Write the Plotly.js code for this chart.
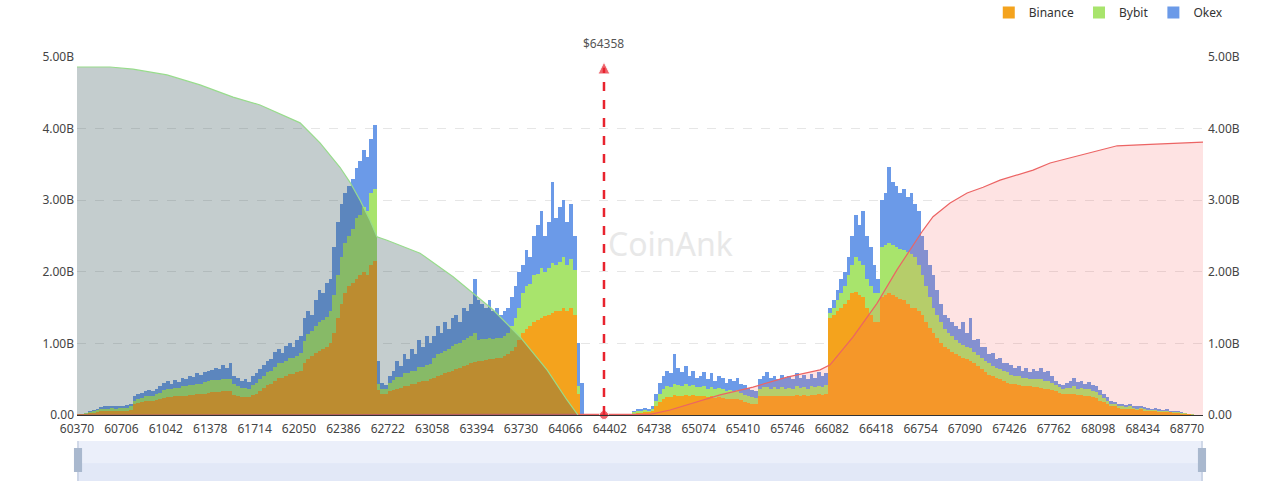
<!DOCTYPE html>
<html>
<head>
<meta charset="utf-8">
<script src="https://cdn.plot.ly/plotly-3.0.1.min.js"></script>
<style>
  html, body { margin: 0; padding: 0; background: #fff; }
  #plotDiv { width: 1280px; height: 484px; }
</style>
</head>
<body>
<div id="plotDiv"></div>
<script>
// price levels: one bar every 28 USD starting at 60370
const startPrice = 60370;
const priceStep = 28;
const currentPrice = 64358;

const xTickLabels = [60370, 60706, 61042, 61378, 61714, 62050, 62386, 62722, 63058, 63394,
  63730, 64066, 64402, 64738, 65074, 65410, 65746, 66082, 66418, 66754,
  67090, 67426, 67762, 68098, 68434, 68770];

// liquidation volume per level, in billions (one row = one tick interval)
const binance = [
  0.01,0.01,0.02,0.03,0.03,0.04,0.05,0.05,0.05,0.06,0.05,0.06,
  0.06,0.06,0.07,0.15,0.17,0.18,0.19,0.20,0.20,0.21,0.22,0.24,
  0.25,0.25,0.26,0.26,0.27,0.27,0.28,0.28,0.29,0.29,0.30,0.31,
  0.32,0.32,0.32,0.33,0.33,0.33,0.28,0.26,0.25,0.25,0.25,0.28,
  0.30,0.34,0.38,0.42,0.44,0.48,0.52,0.52,0.55,0.57,0.57,0.60,
  0.62,0.72,0.78,0.82,0.86,0.90,0.92,0.95,1.00,1.15,1.35,1.55,
  1.70,1.80,1.85,1.90,1.95,2.00,1.95,2.10,2.15,0.35,0.30,0.30,
  0.33,0.35,0.37,0.38,0.40,0.41,0.43,0.44,0.46,0.47,0.48,0.50,
  0.52,0.55,0.56,0.58,0.60,0.62,0.64,0.66,0.68,0.70,0.72,0.74,
  0.75,0.76,0.77,0.78,0.78,0.80,0.80,0.82,0.85,0.90,0.95,1.05,
  1.15,1.20,1.25,1.30,1.32,1.35,1.38,1.40,1.42,1.45,1.45,1.50,
  1.45,1.50,1.40,0.30,0,0,0,0,0,0,0,0,
  0,0,0,0,0,0,0.02,0.03,0.03,0.04,0.04,0.05,
  0.12,0.18,0.22,0.25,0.25,0.28,0.27,0.27,0.28,0.27,0.28,0.27,
  0.26,0.27,0.25,0.26,0.24,0.25,0.24,0.22,0.23,0.22,0.23,0.21,
  0.18,0.17,0.16,0.16,0.26,0.27,0.27,0.26,0.27,0.26,0.27,0.26,
  0.27,0.27,0.28,0.27,0.28,0.27,0.28,0.28,0.29,0.28,0.30,1.35,
  1.40,1.45,1.50,1.55,1.60,1.70,1.72,1.68,1.65,1.50,1.40,1.30,
  1.30,1.65,1.68,1.70,1.68,1.65,1.62,1.60,1.55,1.50,1.50,1.45,
  1.40,1.30,1.22,1.15,1.08,1.00,0.95,0.92,0.88,0.85,0.82,0.80,
  0.78,0.76,0.72,0.68,0.64,0.60,0.56,0.54,0.52,0.50,0.48,0.45,
  0.44,0.43,0.42,0.41,0.40,0.40,0.39,0.39,0.38,0.37,0.36,0.35,
  0.33,0.31,0.30,0.30,0.29,0.29,0.28,0.28,0.27,0.26,0.25,0.24,
  0.20,0.18,0.16,0.13,0.12,0.10,0.09,0.09,0.09,0.08,0.07,0.08,
  0.06,0.055,0.05,0.055,0.045,0.04,0.045,0.035,0.03,0.03,0.02,0.02,
  0.01,0.005,0.003,0
];
const bybit = [
  0.00,0.01,0.01,0.01,0.02,0.03,0.04,0.04,0.04,0.04,0.04,0.04,
  0.04,0.04,0.05,0.05,0.06,0.06,0.07,0.07,0.07,0.08,0.09,0.11,
  0.11,0.11,0.12,0.12,0.13,0.13,0.14,0.14,0.15,0.15,0.16,0.16,
  0.17,0.17,0.17,0.17,0.17,0.17,0.15,0.14,0.13,0.13,0.12,0.14,
  0.15,0.16,0.17,0.18,0.18,0.19,0.20,0.20,0.21,0.22,0.22,0.23,
  0.25,0.32,0.35,0.36,0.38,0.40,0.40,0.42,0.45,0.52,0.60,0.65,
  0.70,0.70,0.75,0.85,0.85,0.90,0.90,1.00,1.00,0.08,0.06,0.06,
  0.12,0.14,0.16,0.15,0.18,0.17,0.19,0.18,0.21,0.20,0.22,0.21,
  0.28,0.30,0.30,0.32,0.32,0.34,0.35,0.35,0.37,0.37,0.38,0.40,
  0.30,0.30,0.29,0.30,0.28,0.28,0.27,0.28,0.30,0.35,0.40,0.45,
  0.55,0.60,0.58,0.65,0.65,0.70,0.62,0.66,0.70,0.65,0.68,0.70,
  0.65,0.68,0.62,0.10,0,0,0,0,0,0,0,0,
  0,0,0,0,0,0,0.02,0.02,0.02,0.03,0.02,0.03,
  0.08,0.12,0.14,0.15,0.14,0.16,0.15,0.14,0.15,0.13,0.14,0.12,
  0.13,0.14,0.12,0.13,0.12,0.13,0.12,0.11,0.12,0.11,0.12,0.10,
  0.10,0.09,0.09,0.08,0.11,0.12,0.12,0.11,0.12,0.11,0.12,0.11,
  0.11,0.10,0.12,0.11,0.11,0.10,0.12,0.11,0.12,0.11,0.12,0.08,
  0.10,0.15,0.20,0.25,0.35,0.40,0.48,0.47,0.45,0.40,0.40,0.40,
  0.40,0.70,0.70,0.70,0.70,0.70,0.70,0.70,0.73,0.75,0.70,0.65,
  0.55,0.50,0.43,0.35,0.32,0.30,0.25,0.23,0.22,0.20,0.18,0.18,
  0.17,0.17,0.16,0.16,0.16,0.16,0.16,0.15,0.14,0.14,0.14,0.15,
  0.12,0.12,0.12,0.11,0.12,0.10,0.11,0.11,0.12,0.11,0.11,0.10,
  0.09,0.08,0.07,0.08,0.09,0.11,0.09,0.10,0.09,0.11,0.09,0.08,
  0.08,0.06,0.04,0.03,0.03,0.03,0.03,0.02,0.03,0.02,0.02,0.02,
  0.02,0.02,0.02,0.02,0.015,0.015,0.015,0.01,0.01,0.01,0.01,0.005,
  0.005,0.003,0.001,0
];
const okex = [
  0.00,0.00,0.00,0.01,0.02,0.02,0.02,0.03,0.03,0.03,0.03,0.03,
  0.03,0.04,0.04,0.06,0.07,0.07,0.07,0.08,0.07,0.08,0.09,0.10,
  0.11,0.08,0.11,0.08,0.12,0.10,0.13,0.11,0.14,0.12,0.14,0.15,
  0.14,0.17,0.15,0.20,0.15,0.22,0.12,0.12,0.10,0.12,0.09,0.13,
  0.13,0.14,0.15,0.16,0.16,0.21,0.20,0.15,0.20,0.21,0.16,0.22,
  0.23,0.31,0.32,0.22,0.36,0.45,0.38,0.48,0.45,0.68,0.75,0.75,
  0.70,0.70,0.70,0.70,0.75,0.80,0.75,0.75,0.90,0.32,0.09,0.06,
  0.10,0.13,0.22,0.15,0.27,0.20,0.30,0.23,0.38,0.28,0.40,0.29,
  0.30,0.40,0.29,0.40,0.28,0.39,0.41,0.29,0.45,0.38,0.45,0.76,
  0.55,0.49,0.44,0.52,0.39,0.42,0.33,0.35,0.35,0.40,0.45,0.50,
  0.40,0.50,0.37,0.55,0.68,0.80,0.50,0.64,1.13,0.65,0.77,0.80,
  0.60,0.77,0.48,0.60,0.45,0,0,0,0,0,0,0,
  0,0,0,0,0,0,0.02,0.03,0.03,0.03,0.03,0.04,
  0.10,0.15,0.19,0.22,0.19,0.41,0.23,0.19,0.25,0.15,0.20,0.13,
  0.16,0.19,0.13,0.19,0.12,0.17,0.16,0.12,0.15,0.14,0.17,0.13,
  0.14,0.12,0.10,0.09,0.13,0.16,0.21,0.15,0.16,0.13,0.17,0.15,
  0.17,0.13,0.18,0.14,0.17,0.13,0.17,0.13,0.19,0.16,0.16,0.07,
  0.10,0.15,0.20,0.20,0.25,0.40,0.60,0.50,0.75,0.60,0.55,0.40,
  0.20,0.65,0.72,1.06,0.87,0.85,0.78,0.85,0.77,0.85,0.75,0.75,
  0.55,0.50,0.45,0.45,0.35,0.25,0.20,0.20,0.20,0.20,0.20,0.32,
  0.20,0.42,0.17,0.22,0.15,0.19,0.13,0.17,0.12,0.15,0.10,0.13,
  0.14,0.10,0.14,0.10,0.14,0.10,0.14,0.12,0.15,0.12,0.15,0.10,
  0.06,0.05,0.05,0.07,0.09,0.12,0.09,0.10,0.08,0.09,0.08,0.08,
  0.07,0.06,0.05,0.04,0.03,0.03,0.03,0.03,0.03,0.03,0.03,0.03,
  0.03,0.025,0.02,0.025,0.02,0.015,0.02,0.015,0.01,0.01,0.01,0.005,
  0.005,0.002,0.001,0
];

// cumulative long liquidations (left, falling) and short liquidations (right, rising)
const longPrices = [60370, 60620, 60794, 61051, 61301, 61551, 61755, 61929, 62058, 62209, 62360, 62436,
  62512, 62587, 62640, 62716, 62966, 63216, 63367, 63518, 63723, 63927, 64078, 64161];
const longValues = [4.86, 4.86, 4.83, 4.75, 4.61, 4.44, 4.33, 4.19, 4.08, 3.80, 3.46, 3.25,
  3.00, 2.72, 2.49, 2.44, 2.26, 1.93, 1.70, 1.47, 1.09, 0.63, 0.21, 0];
const shortPrices = [60370, 64669, 64707, 64858, 64987, 65236, 65486, 65743, 65993, 66069, 66243, 66424,
  66576, 66674, 66772, 66848, 66977, 67106, 67227, 67355, 67605, 67734, 68112, 68241, 68491, 68891];
const shortValues = [0, 0, 0.01, 0.07, 0.14, 0.28, 0.39, 0.53, 0.63, 0.70, 1.09, 1.56,
  2.03, 2.30, 2.58, 2.77, 2.96, 3.10, 3.18, 3.28, 3.42, 3.52, 3.70, 3.76, 3.78, 3.81];

const yTickVals = [0, 1, 2, 3, 4, 5];
const yTickText = ["0.00", "1.00B", "2.00B", "3.00B", "4.00B", "5.00B"];

let prices = binance.map((v, i) => startPrice + priceStep * (i + 0.5));

function barTrace(name, vals, color) {
  return {
    type: "bar",
    name: name,
    x: prices,
    y: vals,
    width: priceStep,
    marker: { color: color, line: { width: 0 } },
    hoverinfo: "skip"
  };
}

let data = [
  barTrace("Binance", binance, "#f4a31d"),
  barTrace("Bybit", bybit, "#a8e46c"),
  barTrace("Okex", okex, "#6b9ae8"),
  {
    type: "scatter", mode: "lines",
    x: shortPrices, y: shortValues,
    yaxis: "y2",
    line: { color: "#ec6464", width: 1.2 },
    fill: "tozeroy", fillcolor: "rgba(250,100,100,0.18)",
    showlegend: false, hoverinfo: "skip"
  },
  {
    type: "scatter", mode: "lines",
    x: longPrices, y: longValues,
    yaxis: "y2",
    line: { color: "#98dc8c", width: 1.2 },
    fill: "tozeroy", fillcolor: "rgba(60,90,92,0.3)",
    showlegend: false, hoverinfo: "skip"
  },
  {
    // current price marker: dot at the bottom, arrow head at the top
    type: "scatter", mode: "markers",
    x: [currentPrice, currentPrice], y: [0, 4.93],
    yaxis: "y2",
    marker: { color: "#e8232e", size: [9, 12], symbol: ["circle", "arrow-up"] },
    showlegend: false, hoverinfo: "skip", cliponaxis: false
  }
];

let axisFont = { family: "Noto Sans, sans-serif", size: 12, color: "#444" };

let layout = {
  width: 1280,
  height: 484,
  margin: { l: 77, r: 77, t: 57, b: 69, autoexpand: false },
  paper_bgcolor: "#fff",
  plot_bgcolor: "#fff",
  barmode: "stack",
  bargap: 0,
  showlegend: true,
  legend: {
    orientation: "h",
    x: 1.022, xanchor: "right",
    y: 1.165, yanchor: "top",
    traceorder: "normal",
    font: { family: "Noto Sans, sans-serif", size: 12, color: "#333" }
  },
  xaxis: {
    type: "linear",
    range: [startPrice, 68891],
    tickvals: xTickLabels,
    ticktext: xTickLabels.map(String),
    tickfont: axisFont,
    ticklabelstandoff: 3,
    showgrid: false,
    zeroline: false,
    showline: true,
    linecolor: "#333",
    linewidth: 1,
    ticks: ""
  },
  yaxis: {
    range: [0, 5],
    tickvals: yTickVals,
    ticktext: yTickText,
    tickfont: axisFont,
    ticklabelstandoff: 2,
    gridcolor: "#e6e6e6",
    griddash: "dash",
    zeroline: false,
    fixedrange: true
  },
  yaxis2: {
    range: [0, 5],
    overlaying: "y",
    side: "right",
    tickvals: yTickVals,
    ticktext: yTickText,
    tickfont: axisFont,
    ticklabelstandoff: 4,
    showgrid: false,
    zeroline: false
  },
  shapes: [
    {
      type: "line", xref: "x", yref: "y",
      x0: currentPrice, x1: currentPrice, y0: 0, y1: 4.85,
      line: { color: "#e8232e", width: 2.5, dash: "dash" }
    },
    // data zoom bar under the axis
    {
      type: "rect", xref: "paper", yref: "paper",
      x0: 0, x1: 1, y0: -0.1844, y1: -0.0726,
      fillcolor: "rgba(210,220,245,0.45)", line: { width: 0 }, layer: "below"
    },
    {
      type: "rect", xref: "paper", yref: "paper",
      x0: 0, x1: 1, y0: -0.1844, y1: -0.135,
      fillcolor: "rgba(200,210,240,0.25)", line: { width: 0 }, layer: "below"
    },
    {
      type: "line", xref: "paper", yref: "paper",
      x0: 0.0009, x1: 0.0009, y0: -0.1844, y1: -0.0726,
      line: { color: "#b6c2d6", width: 1 }
    },
    {
      type: "line", xref: "paper", yref: "paper",
      x0: 0.9991, x1: 0.9991, y0: -0.1844, y1: -0.0726,
      line: { color: "#b6c2d6", width: 1 }
    },
    {
      type: "rect", xref: "paper", yref: "paper",
      x0: -0.0027, x1: 0.0045, y0: -0.1592, y1: -0.0922,
      fillcolor: "#a9b8ce", line: { width: 0 }
    },
    {
      type: "rect", xref: "paper", yref: "paper",
      x0: 0.9955, x1: 1.0027, y0: -0.1592, y1: -0.0922,
      fillcolor: "#a9b8ce", line: { width: 0 }
    }
  ],
  annotations: [
    {
      xref: "x", yref: "paper",
      x: currentPrice, y: 1.039,
      yanchor: "middle",
      text: "$" + currentPrice,
      showarrow: false,
      font: { family: "Noto Sans, sans-serif", size: 12, color: "#555" }
    },
    {
      xref: "paper", yref: "paper",
      x: 0.527, y: 0.48,
      text: "CoinAnk",
      showarrow: false,
      font: { family: "Noto Sans, sans-serif", size: 32, color: "#e8e8e8" }
    }
  ]
};

Plotly.newPlot("plotDiv", data, layout, { displayModeBar: false, staticPlot: true });
</script>
</body>
</html>
